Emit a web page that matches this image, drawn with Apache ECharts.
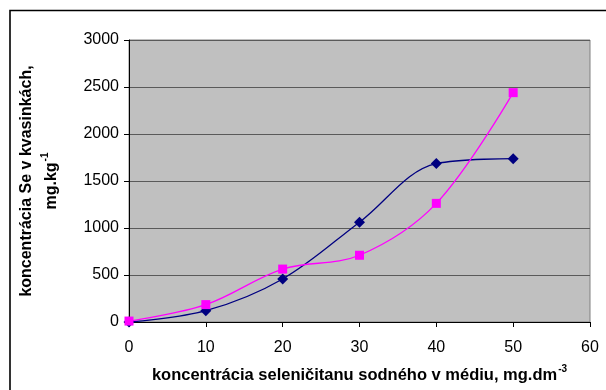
<!DOCTYPE html>
<html>
<head>
<meta charset="utf-8">
<script src="https://cdn.jsdelivr.net/npm/echarts@6/dist/echarts.min.js"></script>
<style>
  html, body { margin: 0; padding: 0; background: #fff; }
  #chart { width: 606px; height: 390px; }
</style>
</head>
<body>
<div id="chart"></div>
<script>
var concentration = [0, 10, 20, 30, 40, 50];
var seriesA = [0, 120, 458, 1062, 1685, 1738];
var seriesB = [10, 185, 563, 710, 1262, 2440];

var myChart = echarts.init(document.getElementById('chart'));

var pairsA = [];
var pairsB = [];
for (var i = 0; i < concentration.length; i++) {
  pairsA.push([concentration[i], seriesA[i]]);
  pairsB.push([concentration[i], seriesB[i]]);
}

var font = 'Liberation Sans, Arial, sans-serif';

var option = {
  backgroundColor: '#fff',
  animation: false,
  // ramik okolo grafu
  graphic: [{
    type: 'rect',
    shape: { x: 10, y: 10.5, width: 620, height: 400 },
    style: { fill: 'none', stroke: '#000', lineWidth: 1.6 },
    silent: true
  }],
  grid: {
    left: 129,
    top: 40,
    right: 16,
    bottom: 68,
    show: true,
    backgroundColor: '#c0c0c0',
    borderColor: '#808080',
    borderWidth: 1
  },
  xAxis: {
    type: 'value',
    min: 0,
    max: 60,
    interval: 10,
    name: '{t|koncentrácia seleničitanu sodného v médiu, mg.dm}{s|-3}',
    nameLocation: 'middle',
    nameGap: 42,
    nameTextStyle: {
      rich: {
        t: { fontFamily: font, fontWeight: 'bold', fontSize: 16.5, color: '#000' },
        s: { fontFamily: font, fontWeight: 'bold', fontSize: 10, color: '#000', padding: [0, 0, 12, 1] }
      }
    },
    axisLine: { onZero: false, lineStyle: { color: '#000', width: 1 } },
    axisTick: { show: true, length: 5, lineStyle: { color: '#000' } },
    axisLabel: { color: '#000', fontFamily: font, fontSize: 16, margin: 18 },
    splitLine: { show: false }
  },
  yAxis: {
    type: 'value',
    min: 0,
    max: 3000,
    interval: 500,
    name: '{t|koncentrácia Se v kvasinkách,}\n{t|mg.kg}{s|-1}',
    nameLocation: 'middle',
    nameGap: 65,
    nameRotate: 90,
    nameTextStyle: {
      align: 'center',
      lineHeight: 25,
      rich: {
        t: { fontFamily: font, fontWeight: 'bold', fontSize: 16, color: '#000', lineHeight: 25 },
        s: { fontFamily: font, fontWeight: 'bold', fontSize: 10, color: '#000', lineHeight: 25, padding: [0, 0, 12, 1] }
      }
    },
    axisLine: { show: true, lineStyle: { color: '#000', width: 1 } },
    axisTick: { show: true, length: 5, lineStyle: { color: '#000' } },
    axisLabel: {
      color: '#000',
      fontFamily: font,
      fontSize: 16,
      margin: 10,
      formatter: function (v) { return String(v); }
    },
    splitLine: { show: true, lineStyle: { color: '#5a5a5a', width: 1 } }
  },
  series: [
    {
      name: 'A',
      type: 'line',
      data: pairsA,
      smooth: 0.35,
      symbol: 'diamond',
      symbolSize: 11,
      color: '#000080',
      lineStyle: { width: 1.3, color: '#000080' },
      itemStyle: { color: '#000080' }
    },
    {
      name: 'B',
      type: 'line',
      data: pairsB,
      smooth: 0.35,
      symbol: 'rect',
      symbolSize: 9,
      color: '#ff00ff',
      lineStyle: { width: 1.3, color: '#ff00ff' },
      itemStyle: { color: '#ff00ff' }
    }
  ]
};

myChart.setOption(option);
</script>
</body>
</html>
